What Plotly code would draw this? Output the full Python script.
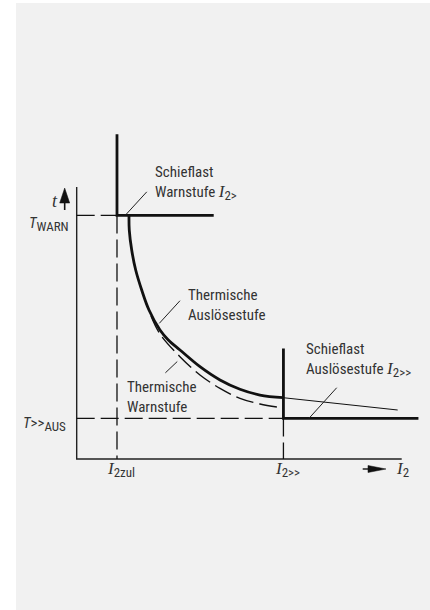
import plotly.graph_objects as go

# ---- key values (arbitrary units) ----
I2_ZUL = 1.0        # permissible negative-sequence current
I2_GG = 5.13        # I2>> pickup
T_WARN = 6.0        # warning delay
T_AUS = 1.0         # T>>AUS trip delay
X_AXIS_END = 8.065
Y_AXIS_END = 6.70

warn_stage_x = [I2_ZUL, I2_ZUL, 3.40]
warn_stage_y = [8.0, T_WARN, T_WARN]
aus_stage_x = [I2_GG, I2_GG, 8.48]
aus_stage_y = [2.72, T_AUS, T_AUS]
trip_x = [1.298, 1.305, 1.365, 1.464, 1.613, 1.794, 2.067, 2.273, 2.563, 3.059, 3.556, 4.052, 4.548, 5.127]
trip_y = [6.00, 5.64, 5.148, 4.655, 4.163, 3.670, 3.177, 2.931, 2.685, 2.273, 1.946, 1.717, 1.576, 1.510]
trip_ext_x = [5.127, 7.965]
trip_ext_y = [1.510, 1.207]
warnc_x = [1.844, 2.067, 2.563, 3.059, 3.556, 4.052, 4.548, 5.127]
warnc_y = [3.522, 3.079, 2.520, 2.069, 1.741, 1.495, 1.355, 1.256]

leaders = [
    (1.226, 6.025, 1.739, 6.581),
    (2.050, 3.342, 2.563, 3.899),
    (2.201, 2.123, 2.496, 2.401),
    (5.764, 1.002, 6.452, 1.756),
]

SANS = "Roboto Condensed, DejaVu Sans Condensed, sans-serif"
SERIF_I = '<span style="font-family:Liberation Serif;font-size:17px"><i>I</i></span>'
TXT = "#333333"
INK = "#111111"
DASH = "18px,6px"

def sub(s, size=13):
    return f'<sub><span style="font-size:{size}px">{s}</span></sub>'

fig = go.Figure()

def line(x, y, w, dash="solid", shape="linear", color=INK):
    fig.add_trace(go.Scatter(x=x, y=y, mode="lines", hoverinfo="skip",
                             line=dict(color=color, width=w, dash=dash, shape=shape)))

line([0, 0, X_AXIS_END], [Y_AXIS_END, 0, 0], 1.4, color="#222222")
line([0, I2_ZUL], [T_WARN, T_WARN], 1.3, DASH)
line([I2_ZUL, I2_ZUL], [T_WARN, 0], 1.3, DASH)
line([0, I2_GG], [T_AUS, T_AUS], 1.3, DASH)
line([I2_GG, I2_GG], [T_AUS, 0], 1.3, DASH)
line(trip_ext_x, trip_ext_y, 1.0)
line(warnc_x, warnc_y, 1.4, DASH, "spline")
line(trip_x, trip_y, 2.8, "solid", "spline")
line(warn_stage_x, warn_stage_y, 2.8)
line(aus_stage_x, aus_stage_y, 2.8)
for (x0, y0, x1, y1) in leaders:
    line([x0, x1], [y0, y1], 1.0, color="#222222")

shapes = []
ax_t = -0.298
shapes.append(dict(type="line", x0=ax_t, x1=ax_t, y0=6.133, y1=6.32,
                   line=dict(color=INK, width=1.6)))
shapes.append(dict(type="path", fillcolor=INK, line=dict(color=INK, width=0.5),
                   path=f"M {ax_t-0.124},6.305 L {ax_t+0.124},6.305 L {ax_t},6.675 Z"))
ay_i = -0.246
shapes.append(dict(type="line", x0=7.097, x1=7.25, y0=ay_i, y1=ay_i,
                   line=dict(color=INK, width=1.4)))
shapes.append(dict(type="path", fillcolor=INK, line=dict(color=INK, width=0.5),
                   path=f"M 7.228,{ay_i-0.086} L 7.228,{ay_i+0.086} L 7.675,{ay_i} Z"))

anns = []
def txt(x, y, text, xanchor="left", size=15, align="left", family=SANS):
    anns.append(dict(x=x, y=y, xref="x", yref="y", text=text, showarrow=False,
                     xanchor=xanchor, yanchor="middle", align=align,
                     font=dict(family=family, size=size, color=TXT)))

txt(1.90, 6.79, "Schieflast<br>Warnstufe " + SERIF_I + sub("2&gt;"))
txt(2.712, 3.803, "Thermische<br>Auslösestufe")
txt(1.199, 1.520, "Thermische<br>Warnstufe")
txt(5.648, 2.436, "Schieflast<br>Auslösestufe " + SERIF_I + sub("2&gt;&gt;"))
txt(-0.141, 5.80, "<i>T</i>" + sub("WARN"), xanchor="right")
txt(-0.223, 0.87, "<i>T</i>&gt;&gt;" + sub("AUS"), xanchor="right")
txt(-0.54, 6.36, '<span style="font-family:Liberation Serif;font-size:18px"><i>t</i></span>', xanchor="center")
txt(1.11, -0.27, SERIF_I + sub("2zul"), xanchor="center")
txt(5.24, -0.27, SERIF_I + sub("2&gt;&gt;"), xanchor="center")
txt(8.08, -0.27, SERIF_I + sub("2"), xanchor="center")

fig.update_layout(
    width=430, height=610,
    margin=dict(l=16, r=0, t=3, b=0, autoexpand=False),
    paper_bgcolor="white", plot_bgcolor="#f1f1f1",
    showlegend=False, hovermode=False,
    xaxis=dict(range=[-1.506, 8.767], visible=False, fixedrange=True),
    yaxis=dict(range=[-3.719, 11.232], visible=False, fixedrange=True),
    shapes=shapes, annotations=anns,
)

fig.write_html("out.html", config={"displayModeBar": False, "staticPlot": True},
               post_script="document.body.style.margin='0';document.body.style.overflow='hidden';")
